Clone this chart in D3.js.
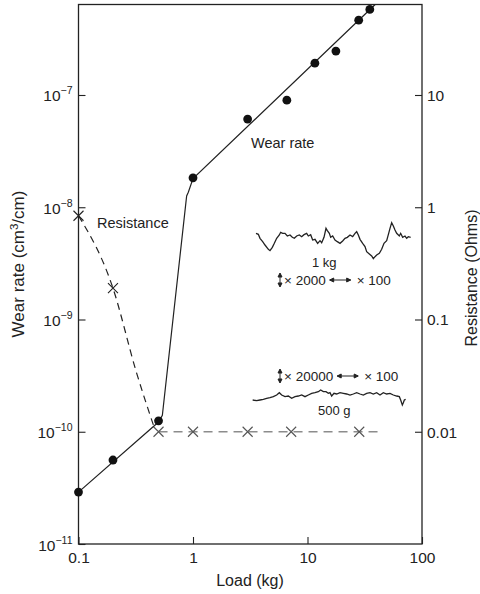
<!DOCTYPE html>
<html>
<head>
<meta charset="utf-8">
<script src="https://cdn.jsdelivr.net/npm/d3@7"></script>
<style>
  body { margin: 0; background: #fff; }
  text { font-family: "Liberation Sans", Arial, sans-serif; fill: #222; }
</style>
</head>
<body>
<script>
// measured wear rate points
var loadWear = [0.1, 0.2, 0.5, 1, 3, 6.6, 11.6, 17.7, 28, 35];
var wearRate = [2.9e-11, 5.6e-11, 1.25e-10, 1.83e-8, 6.1e-8, 9.0e-8, 1.92e-7, 2.46e-7, 4.64e-7, 5.78e-7];

// drawn wear rate curve
var fitLoad = [0.1, 0.5, 0.54, 0.55, 0.88, 0.91, 1, 39];
var fitWear = [2.9e-11, 1.22e-10, 1.4e-10, 1.66e-10, 1.26e-8, 1.36e-8, 1.8e-8, 6.4e-7];

// contact resistance
var resLoad = [0.1, 0.2, 0.5, 1, 3, 7.2, 28.3];
var resOhms = [0.84, 0.19, 0.01, 0.01, 0.01, 0.01, 0.01];
var resCurveLoad = [0.1, 0.2, 0.32, 0.46];
var resCurveOhms = [0.84, 0.19, 0.034, 0.0108];
var flatLoad = [0.5, 41];
var flatOhms = [0.01, 0.01];

var xTicks = [0.1, 1, 10, 100];
var xTickLabels = ["0.1", "1", "10", "100"];
var yTicks = [1e-11, 1e-10, 1e-9, 1e-8, 1e-7];
var yTickExp = ["\u221211", "\u221210", "\u22129", "\u22128", "\u22127"];
var rTicks = [0.01, 0.1, 1, 10];
var rTickLabels = ["0.01", "0.1", "1", "10"];

// surface profile traces (sampled by eye, arbitrary units)
var trace1kgX = [48,55,60,68,75,85,90,97,103,110,118,122,128,135,142,150,157,163,170,178,185,192,200,205,212,218,225,233,240,245,252,258,262,268,272,278,285,292,300,308,315,322,330,338,345,350,355,360,368,375,380,388,395,400,405,410,418,425,432,440,446,450,455,460,465,470,478,482,488,495,500,505,512];
var trace1kgY = [100,103,115,125,135,148,152,142,130,115,105,97,100,100,108,105,112,115,108,105,110,104,100,108,104,120,118,130,122,128,112,85,92,100,112,108,120,125,130,123,115,112,105,110,100,95,105,118,130,140,155,162,168,176,170,165,160,148,130,122,100,85,68,78,90,100,108,100,112,108,115,110,112];
var trace500gX = [38,50,60,70,80,90,100,110,118,125,135,145,155,165,175,185,195,205,215,225,235,242,250,258,265,270,275,282,290,300,310,320,330,340,350,360,370,380,390,400,410,420,430,440,450,460,470,478,482,487,490,493,497];
var trace500gY = [150,152,150,148,145,143,140,135,128,135,140,138,145,140,138,135,140,135,130,128,125,120,125,125,130,128,138,130,132,128,130,132,135,132,128,132,135,130,128,132,128,135,128,132,130,135,138,140,150,165,158,150,148];

var W = 480, H = 594;
var svg = d3.select("body").append("svg")
    .attr("width", W)
    .attr("height", H);

var mLeft = 78.5, mRight = 422, mTop = 4.5, mBottom = 544;

var x = d3.scaleLog().domain([0.1, 100]).range([mLeft, mRight]);
var y = d3.scaleLog().domain([1e-11, 6.4e-7]).range([mBottom, mTop]);
var yR = d3.scaleLog().domain([1e-3, 64]).range([mBottom, mTop]);

// frame
svg.append("rect")
    .attr("x", mLeft).attr("y", mTop)
    .attr("width", mRight - mLeft).attr("height", mBottom - mTop)
    .attr("fill", "none").attr("stroke", "#222").attr("stroke-width", 1.3);

// axes (ticks point inward)
var xAxis = svg.append("g")
    .attr("transform", `translate(0,${mBottom})`)
    .call(d3.axisBottom(x).tickValues(xTicks).tickSize(-7).tickSizeOuter(0)
      .tickFormat((d, i) => xTickLabels[i]));
xAxis.select(".domain").remove();
xAxis.selectAll("text").attr("dy", null).attr("y", 19).style("font-size", "15.5px")
    .style("font-family", "Liberation Sans, Arial, sans-serif").attr("fill", "#222");

var yAxis = svg.append("g")
    .attr("transform", `translate(${mLeft},0)`)
    .call(d3.axisLeft(y).tickValues(yTicks).tickSize(-7).tickSizeOuter(0).tickFormat(""));
yAxis.select(".domain").remove();
yAxis.selectAll(".tick text").each(function(d, i) {
  var t = d3.select(this)
      .attr("x", -6).attr("dy", null).attr("y", 6)
      .attr("fill", "#222")
      .style("font-family", "Liberation Sans, Arial, sans-serif")
      .style("font-size", "15.5px");
  t.append("tspan").text("10");
  t.append("tspan").attr("dy", -7).style("font-size", "10.5px").text(yTickExp[i]);
});

var rAxis = svg.append("g")
    .attr("transform", `translate(${mRight},0)`)
    .call(d3.axisRight(yR).tickValues(rTicks).tickSize(-7).tickSizeOuter(0)
      .tickFormat((d, i) => rTickLabels[i]));
rAxis.select(".domain").remove();
rAxis.selectAll("text").attr("x", 5).attr("dy", "0.35em").style("font-size", "15.5px")
    .style("font-family", "Liberation Sans, Arial, sans-serif").attr("fill", "#222");

svg.selectAll(".tick line").attr("stroke", "#222").attr("stroke-width", 1.1);

// axis titles
svg.append("text")
    .attr("x", 250).attr("y", 586)
    .attr("text-anchor", "middle")
    .style("font-size", "16px")
    .text("Load (kg)");

var yt = svg.append("text")
    .attr("transform", "translate(24,264) rotate(-90)")
    .attr("text-anchor", "middle")
    .style("font-size", "17px");
yt.append("tspan").text("Wear rate (cm");
yt.append("tspan").attr("dy", -6).style("font-size", "11.5px").text("3");
yt.append("tspan").attr("dy", 6).text("/cm)");

svg.append("text")
    .attr("transform", "translate(477,278) rotate(-90)")
    .attr("text-anchor", "middle")
    .style("font-size", "16px")
    .text("Resistance (Ohms)");

// resistance: dashed curve and flat part
var resCurve = d3.line()
    .x(d => x(d[0]))
    .y(d => yR(d[1]))
    .curve(d3.curveMonotoneX);

svg.append("path")
    .attr("d", resCurve(d3.zip(resCurveLoad, resCurveOhms)))
    .attr("fill", "none").attr("stroke", "#222")
    .attr("stroke-width", 1.2).attr("stroke-dasharray", "7,5");

svg.append("path")
    .attr("d", resCurve(d3.zip(flatLoad, flatOhms)))
    .attr("fill", "none").attr("stroke", "#8c8c8c")
    .attr("stroke-width", 1.6).attr("stroke-dasharray", "9,6");

svg.append("g").selectAll("path")
    .data(d3.zip(resLoad, resOhms))
    .enter()
    .append("path")
      .attr("transform", d => `translate(${x(d[0])},${yR(d[1])})`)
      .attr("d", "M-5,-5L5,5M-5,5L5,-5")
      .attr("stroke", d => d[1] > 0.05 ? "#222" : "#555")
      .attr("stroke-width", 1.1);

// wear rate curve and points
var wearLine = d3.line()
    .x(d => x(d[0]))
    .y(d => y(d[1]));

svg.append("path")
    .attr("d", wearLine(d3.zip(fitLoad, fitWear)))
    .attr("fill", "none").attr("stroke", "#222").attr("stroke-width", 1.2);

svg.append("g").selectAll("circle")
    .data(d3.zip(loadWear, wearRate))
    .enter()
    .append("circle")
      .attr("cx", d => x(d[0]))
      .attr("cy", d => y(d[1]))
      .attr("r", 4.4)
      .attr("fill", "#111");

// labels on the curves
svg.append("text").attr("x", 251).attr("y", 148).style("font-size", "14.5px").text("Wear rate");
svg.append("text").attr("x", 97).attr("y", 228).style("font-size", "14.5px").text("Resistance");

// profile insets
var tx = d3.scaleLinear().domain([0, 600]).range([240, 440]);
var t1y = d3.scaleLinear().domain([0, 300]).range([200, 300]);
var t2y = d3.scaleLinear().domain([0, 300]).range([350, 450]);

svg.append("path")
    .attr("d", d3.line().x(d => tx(d[0])).y(d => t1y(d[1]))(d3.zip(trace1kgX, trace1kgY)))
    .attr("fill", "none").attr("stroke", "#222").attr("stroke-width", 1.3);
svg.append("path")
    .attr("d", d3.line().x(d => tx(d[0])).y(d => t2y(d[1]))(d3.zip(trace500gX, trace500gY)))
    .attr("fill", "none").attr("stroke", "#222").attr("stroke-width", 1.3);

svg.append("text").attr("x", 312).attr("y", 267).style("font-size", "13px").text("1 kg");
svg.append("text").attr("x", 318).attr("y", 415).style("font-size", "13px").text("500 g");

function scaleNote(yy, vText) {
  var g = svg.append("g");
  // vertical double arrow
  g.append("path")
    .attr("d", `M280,${yy - 6}L280,${yy + 6}M278,${yy - 3}L280,${yy - 7}L282,${yy - 3}Z M278,${yy + 3}L280,${yy + 7}L282,${yy + 3}Z`)
    .attr("stroke", "#222").attr("stroke-width", 1).attr("fill", "#222");
  var t = g.append("text").attr("x", 284).attr("y", yy + 5).style("font-size", "13.5px").text(vText);
  var w = t.node().getComputedTextLength();
  var a0 = 284 + w + 4, a1 = a0 + 21;
  g.append("path")
    .attr("d", `M${a0},${yy}L${a1},${yy}M${a0 + 4},${yy - 2}L${a0},${yy}L${a0 + 4},${yy + 2}Z M${a1 - 4},${yy - 2}L${a1},${yy}L${a1 - 4},${yy + 2}Z`)
    .attr("stroke", "#222").attr("stroke-width", 1).attr("fill", "#222");
  g.append("text").attr("x", a1 + 6).attr("y", yy + 5).style("font-size", "13.5px").text("\u00d7 100");
}
scaleNote(280, "\u00d7 2000");
scaleNote(376, "\u00d7 20000");
</script>
</body>
</html>
